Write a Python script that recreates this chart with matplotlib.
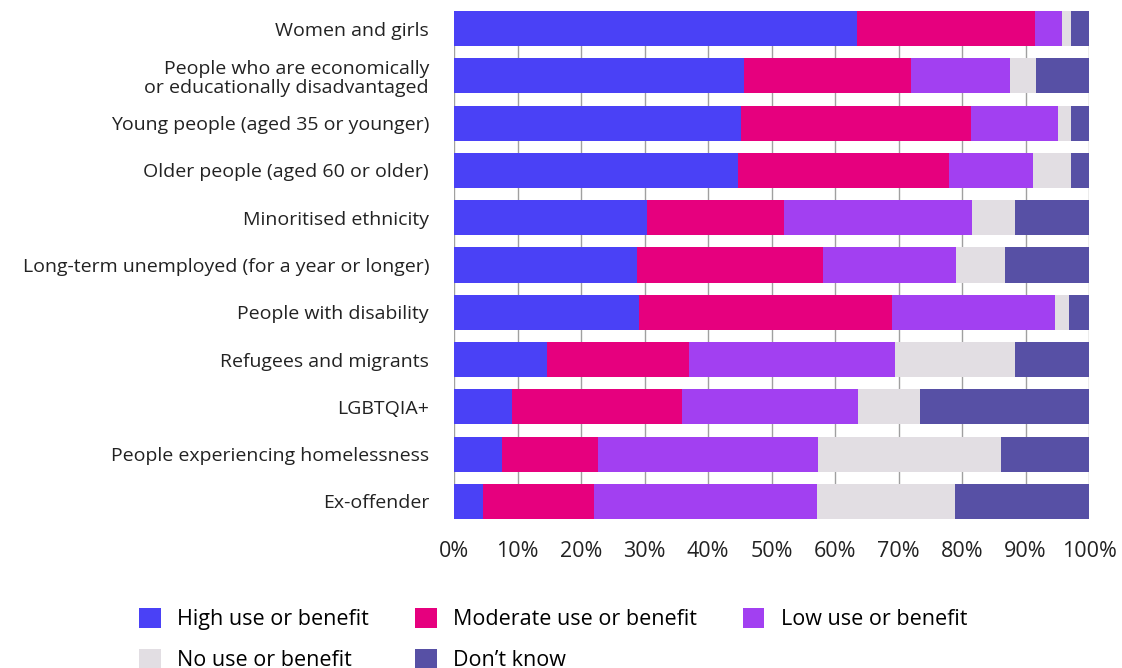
import matplotlib.pyplot as plt
from matplotlib.patches import Patch
from matplotlib.ticker import PercentFormatter
import numpy as np

plt.rcParams['font.family'] = ['Open Sans', 'DejaVu Sans']

groups = [
    'Women and girls',
    'People who are economically\nor educationally disadvantaged',
    'Young people (aged 35 or younger)',
    'Older people (aged 60 or older)',
    'Minoritised ethnicity',
    'Long-term unemployed (for a year or longer)',
    'People with disability',
    'Refugees and migrants',
    'LGBTQIA+',
    'People experiencing homelessness',
    'Ex-offender',
]

high = [63.5, 45.6, 45.2, 44.7, 30.4, 28.8, 29.2, 14.6, 9.2, 7.6, 4.5]
moderate = [28.0, 26.3, 36.2, 33.2, 21.6, 29.3, 39.8, 22.4, 26.7, 15.0, 17.6]
low = [4.3, 15.6, 13.7, 13.3, 29.6, 20.9, 25.7, 32.5, 27.8, 34.8, 35.1]
no_use = [1.3, 4.1, 2.1, 5.9, 6.7, 7.8, 2.1, 18.9, 9.7, 28.8, 21.7]
dont_know = [2.9, 8.4, 2.8, 2.9, 11.7, 13.2, 3.2, 11.6, 26.6, 13.8, 21.1]

series = [
    ('High use or benefit', high, '#4a41f6'),
    ('Moderate use or benefit', moderate, '#e6007e'),
    ('Low use or benefit', low, '#a240f1'),
    ('No use or benefit', no_use, '#e2dee3'),
    ('Don\u2019t know', dont_know, '#5750a5'),
]

fig = plt.figure(figsize=(11.22, 6.68), dpi=100)
ax = fig.add_axes([454 / 1122, 1 - 519 / 668, 635 / 1122, 508 / 668])

y = np.arange(len(groups))
left = np.zeros(len(groups))
for name, vals, color in series:
    vals = np.array(vals)
    ax.barh(y, vals, left=left, height=0.74, color=color, label=name, zorder=3)
    left += vals

ax.set_xlim(0, 100)
ax.set_ylim(len(groups) - 1 + 0.37, -0.37)
ax.set_xticks(np.arange(0, 101, 10))
ax.xaxis.set_major_formatter(PercentFormatter(decimals=0))
ax.set_yticks(y)
ax.set_yticklabels(groups, fontsize=14, color='#222222', linespacing=1.1)
ax.grid(axis='x', color='#a0a0a0', linewidth=1, zorder=0)
ax.tick_params(axis='x', length=0, pad=16, labelsize=15.5, labelcolor='#222222')
ax.tick_params(axis='y', length=0, pad=18)
for s in ax.spines.values():
    s.set_visible(False)

# legend is filled column by column, so order entries to read row by row
order = [0, 3, 1, 4, 2]
handles = [Patch(facecolor=series[i][2], edgecolor='none') for i in order]
labels = [series[i][0] for i in order]
fig.legend(handles, labels, loc='upper left', bbox_to_anchor=(120 / 1122, 1 - 589 / 668),
           ncol=3, frameon=False, fontsize=15.5, handlelength=1.0, handleheight=1.0,
           handletextpad=0.75, columnspacing=2.15, labelspacing=0.85)

fig.savefig('out.png', dpi=100)
